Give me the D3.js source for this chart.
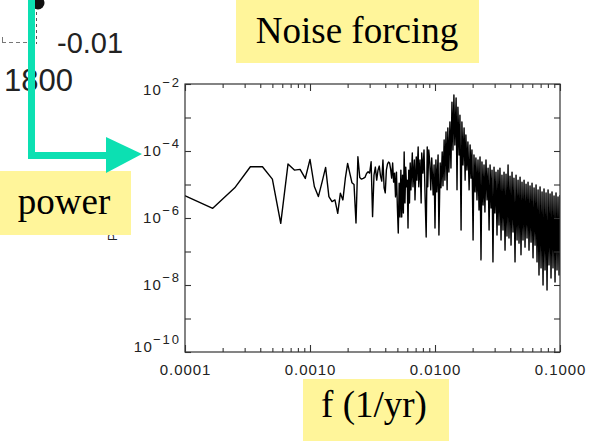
<!DOCTYPE html>
<html>
<head>
<meta charset="utf-8">
<script src="https://cdn.jsdelivr.net/npm/d3@7"></script>
<style>
body { margin: 0; background: #fff; }
svg { display: block; }
</style>
</head>
<body>
<script>
// spectrum: frequency index k (f = k / 12000 per yr) and log10(power)
// low end is resolved point by point, high end is read as the envelope of the dense band
var freqIndex = [
  1, 2, 3, 4, 5, 6, 7, 8, 9, 10, 11, 12, 13, 14, 15, 16, 17, 18, 19, 20,
  21, 22, 23, 24, 25, 26, 27, 28, 29, 30, 31, 32, 33, 34, 35, 36, 37, 38, 39,
  40, 41, 42, 43, 44, 45, 46, 47, 48, 49, 50, 51, 52, 53, 54, 55, 56, 57, 58, 59,
  60, 61, 62, 63, 64, 65, 66, 67, 68, 69, 70, 71, 72, 73, 74, 75,
  76, 77, 79, 80, 82, 83, 85, 86, 88, 89, 91, 93, 94, 96, 98,
  100, 102, 104, 105, 107, 109, 111, 113, 116, 118, 120, 122, 124, 127, 129,
  132, 134, 137, 139, 142, 144, 147, 150, 152, 155, 158, 161, 164, 167, 170,
  173, 177, 180, 183, 187, 190, 194, 197, 201, 205, 209, 212, 216, 220, 225,
  229, 233, 237, 242, 246, 251, 255, 260, 265, 270, 275, 280, 285, 291, 296,
  301, 307, 313, 319, 325, 331, 337, 343, 349, 356, 362, 369, 376, 383, 390,
  397, 405, 412, 420, 428, 436, 444, 452, 461, 469, 478, 487, 496, 505, 514,
  524, 534, 544, 554, 564, 575, 585, 596, 607, 619, 630, 642, 654, 666, 678,
  691, 704, 717, 730, 744, 758, 772, 786, 801, 815, 831, 846, 862, 878, 894,
  911, 928, 945, 963, 980, 999, 1017, 1036, 1055, 1075, 1095, 1115, 1136, 1157, 1179,
  1200
];
var logPower = [
  -5.20, -5.71, -5.10, -4.47, -4.47, -4.84, -6.16, -4.39, -4.57, -4.55,
  -4.82, -4.25, -5.06, -5.36, -4.92, -4.49, -5.36, -5.51, -5.46, -5.86,
  -5.26, -5.46, -4.82, -4.37, -4.67, -4.95, -5.00, -6.15, -4.17, -4.79,
  -4.84, -4.82, -4.79, -4.67, -4.62, -4.66, -4.32, -5.96, -4.72,
  -4.48, -4.87, -4.57, -4.45, -4.75, -4.90, -4.27, -5.10, -5.25, -4.57,
  -4.39, -4.33, -4.36, -4.54, -4.81, -4.36, -4.93, -4.66, -5.37, -4.63,
  -5.67, -6.45, -4.96, -5.97, -4.57, -5.97, -4.72, -5.85, -4.03, -5.55,
  -4.48, -5.07, -4.87, -6.30, -4.57, -5.55,
  -4.36, -5.16, -4.06, -5.07, -4.27, -5.46, -4.18, -4.87, -3.88, -5.07,
  -4.27, -5.55, -4.06, -4.66, -3.97, -5.37, -6.57, -3.88, -5.07, -3.97,
  -4.33, -5.16, -4.21, -5.31, -4.42, -6.30, -4.27, -5.22, -4.12, -6.51,
  -4.36, -5.10, -4.03, -5.04, -3.67, -4.87, -3.43, -5.16, -3.31, -4.63,
  -3.13, -4.51, -2.54, -3.97, -2.33, -3.82, -2.42, -5.16, -2.69, -4.12,
  -2.93, -6.36, -3.13, -4.42, -3.31, -4.87, -3.52, -4.57, -3.73, -5.16,
  -3.82, -4.81, -3.97, -6.66, -4.12, -5.22, -4.21, -5.46, -4.27, -5.76,
  -4.18, -7.25, -4.33, -5.61, -4.42, -5.82, -4.27, -5.46, -4.51, -6.36,
  -4.42, -5.70, -4.57, -7.31, -4.48, -5.85, -4.63, -6.51, -4.57, -6.21,
  -4.51, -6.66, -4.72, -6.36, -4.63, -6.96, -4.69, -6.54, -4.42, -6.60,
  -4.75, -6.81, -4.63, -6.42, -4.81, -7.31, -4.72, -6.66, -4.87, -6.75,
  -4.78, -7.10, -4.93, -6.66, -4.87, -6.87, -4.99, -6.60, -4.93, -6.96,
  -5.04, -6.72, -4.96, -7.19, -5.10, -6.81, -5.01, -7.31, -5.16, -7.70,
  -5.07, -7.49, -5.22, -8.00, -5.13, -7.55, -5.25, -8.15, -5.16, -7.40,
  -5.28, -7.79, -5.22, -7.49, -5.34, -7.91, -5.25, -7.55, -5.37, -7.70,
  -5.31
];
var nFreq = 12000; // record length in yr
var xTickValues = [0.0001, 0.001, 0.01, 0.1];
var xTickLabels = ["0.0001", "0.0010", "0.0100", "0.1000"];
var yTickExps = [-2, -4, -6, -8, -10];

var W = 592, H = 441;
var plotL = 185, plotR = 560, plotT = 84, plotB = 352;

var svg = d3.select("body").append("svg")
  .attr("width", W)
  .attr("height", H)
  .style("background", "#fff");

var x = d3.scaleLog().domain([1e-4, 1e-1]).range([plotL, plotR]);
var y = d3.scaleLog().domain([1e-10, 1e-2]).range([plotB, plotT]);

var data = freqIndex.map(function(k, i) {
  return { f: k / nFreq, p: Math.pow(10, logPower[i]) };
});

svg.append("clipPath").attr("id", "plotclip")
  .append("rect")
  .attr("x", plotL).attr("y", plotT)
  .attr("width", plotR - plotL).attr("height", plotB - plotT);

// spectrum line
var line = d3.line()
  .x(function(d) { return x(d.f); })
  .y(function(d) { return y(d.p); });

svg.append("path")
  .datum(data)
  .attr("clip-path", "url(#plotclip)")
  .attr("d", line)
  .attr("fill", "none")
  .attr("stroke", "#000")
  .attr("stroke-width", 1.4)
  .attr("stroke-linejoin", "round");

// frame
svg.append("rect")
  .attr("x", plotL).attr("y", plotT)
  .attr("width", plotR - plotL).attr("height", plotB - plotT)
  .attr("fill", "none")
  .attr("stroke", "#333")
  .attr("stroke-width", 1.2);

// ticks (all pointing inward)
var minorX = x.ticks().filter(function(v) {
  return xTickValues.indexOf(+v.toPrecision(1)) < 0;
});
var decadesY = d3.range(-10, -1).map(function(e) { return Math.pow(10, e); });

function tickAxis(axis, tx, ty) {
  var g = svg.append("g")
    .attr("transform", "translate(" + tx + "," + ty + ")")
    .call(axis);
  g.select(".domain").remove();
  g.selectAll(".tick line").attr("stroke", "#333").attr("stroke-width", 1.1);
  g.selectAll("text").remove();
}
tickAxis(d3.axisBottom(x).tickValues(xTickValues).tickSize(-7), 0, plotB);
tickAxis(d3.axisBottom(x).tickValues(minorX).tickSize(-4), 0, plotB);
tickAxis(d3.axisTop(x).tickValues(xTickValues).tickSize(-7), 0, plotT);
tickAxis(d3.axisTop(x).tickValues(minorX).tickSize(-4), 0, plotT);
tickAxis(d3.axisLeft(y).tickValues(decadesY).tickSize(-6), plotL, 0);
tickAxis(d3.axisRight(y).tickValues(decadesY).tickSize(-6), plotR, 0);

// x tick labels
svg.selectAll(".xlab")
  .data(xTickValues)
  .enter()
  .append("text")
  .attr("class", "xlab")
  .attr("x", function(d) { return x(d) + 0.5; })
  .attr("y", 375)
  .attr("text-anchor", "middle")
  .attr("font-family", "Liberation Sans, Arial, sans-serif")
  .attr("font-size", 15)
  .attr("letter-spacing", 0.9)
  .attr("fill", "#222")
  .text(function(d, i) { return xTickLabels[i]; });

// y tick labels, 10 with superscript exponent
var ylab = svg.selectAll(".ylab")
  .data(yTickExps)
  .enter()
  .append("text")
  .attr("class", "ylab")
  .attr("x", 181)
  .attr("y", function(e) {
    var ty = Math.max(plotT + 6, Math.min(plotB - 5, y(Math.pow(10, e))));
    return ty + 5;
  })
  .attr("text-anchor", "end")
  .attr("font-family", "Liberation Sans, Arial, sans-serif")
  .attr("fill", "#222");
ylab.append("tspan")
  .attr("font-size", 15)
  .attr("letter-spacing", 1.2)
  .text("10");
ylab.append("tspan")
  .attr("font-size", 13)
  .attr("dy", -8)
  .attr("letter-spacing", 2)
  .text(function(e) { return "\u2212" + Math.abs(e); });

// y title, mostly hidden under the yellow box
svg.append("text")
  .attr("transform", "translate(117,241) rotate(-90)")
  .attr("font-family", "Liberation Sans, Arial, sans-serif")
  .attr("font-size", 12)
  .attr("fill", "#222")
  .text("Power");

// leftovers of the neighbouring plot (top left)
svg.append("circle")
  .attr("cx", 38).attr("cy", 3).attr("r", 6.5)
  .attr("fill", "#111");
svg.append("line")
  .attr("x1", 36.5).attr("x2", 36.5).attr("y1", 12).attr("y2", 44)
  .attr("stroke", "#555").attr("stroke-dasharray", "3,3");
svg.append("line")
  .attr("x1", 2).attr("x2", 36).attr("y1", 42.5).attr("y2", 42.5)
  .attr("stroke", "#777").attr("stroke-dasharray", "4,3");
svg.append("line")
  .attr("x1", 2.5).attr("x2", 2.5).attr("y1", 37).attr("y2", 43)
  .attr("stroke", "#777");
svg.append("text")
  .attr("x", 57).attr("y", 53)
  .attr("font-family", "Liberation Sans, Arial, sans-serif")
  .attr("font-size", 29)
  .attr("fill", "#222")
  .text("-0.01");
svg.append("text")
  .attr("x", 4).attr("y", 91)
  .attr("font-family", "Liberation Sans, Arial, sans-serif")
  .attr("font-size", 31)
  .attr("fill", "#222")
  .text("1800");

// yellow captions
var boxes = [
  { text: "Noise forcing", x: 236, y: 0, w: 243, h: 63, tx: 357, ty: 43 },
  { text: "power", x: 0, y: 171, w: 131, h: 64, tx: 64, ty: 214 },
  { text: "f (1/yr)", x: 303, y: 379, w: 146, h: 62, tx: 374, ty: 417 }
];
boxes.forEach(function(b) {
  svg.append("rect")
    .attr("x", b.x).attr("y", b.y)
    .attr("width", b.w).attr("height", b.h)
    .attr("fill", "#fff59a");
  svg.append("text")
    .attr("x", b.tx).attr("y", b.ty)
    .attr("text-anchor", "middle")
    .attr("font-family", "Liberation Serif, Times New Roman, serif")
    .attr("font-size", 37)
    .attr("fill", "#000")
    .text(b.text);
});

// teal arrow pointing at the y axis
svg.append("path")
  .attr("d", "M31.5,0 V155.5 H108")
  .attr("fill", "none")
  .attr("stroke", "#0ce0b2")
  .attr("stroke-width", 7);
svg.append("path")
  .attr("d", "M106,137 L106,173 L142,154 Z")
  .attr("fill", "#0ce0b2");
</script>
</body>
</html>
